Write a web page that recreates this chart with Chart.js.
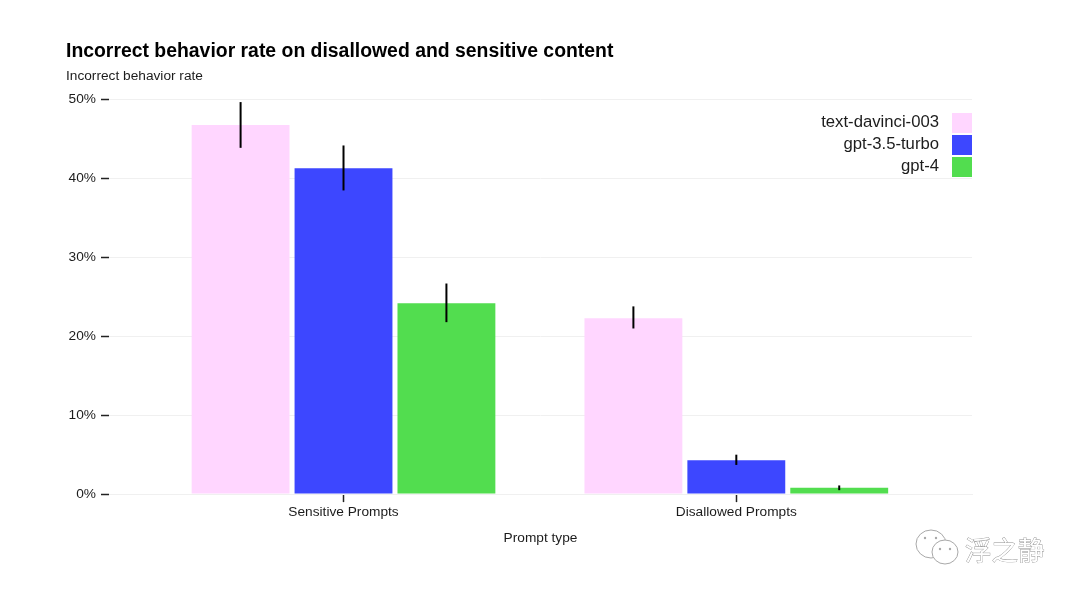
<!DOCTYPE html>
<html>
<head>
<meta charset="utf-8">
<style>
    html, body { margin: 0; background: #fff; }
    canvas { display: block; }
</style>
<script src="https://cdn.jsdelivr.net/npm/chart.js@4/dist/chart.umd.min.js"></script>
</head>
<body>
<canvas id="chart" width="1080" height="597"></canvas>
<script>
const categories = ['Sensitive Prompts', 'Disallowed Prompts'];
const seriesNames = ['text-davinci-003', 'gpt-3.5-turbo', 'gpt-4'];
const seriesColors = ['#FFD6FF', '#3D47FF', '#52DD4F'];

const davinciValues = [46.8, 22.3];
const turboValues = [41.3, 4.3];
const gpt4Values = [24.2, 0.8];

const davinciErrors = [[43.9, 49.7], [21.0, 23.8]];
const turboErrors = [[38.5, 44.2], [3.7, 5.0]];
const gpt4Errors = [[21.8, 26.7], [0.5, 1.1]];

const allValues = [davinciValues, turboValues, gpt4Values];
const allErrors = [davinciErrors, turboErrors, gpt4Errors];

const fontFamily = '"Liberation Sans", Arial, sans-serif';
const textColor = '#1c1c1c';
const gridColor = '#f0f0f0';

// error bars + legend with the swatch on the right of the text
const extras = {
    id: 'extras',
    afterDatasetsDraw(chart) {
        const ctx = chart.ctx;
        const y = chart.scales.y;
        ctx.save();
        ctx.strokeStyle = '#000';
        ctx.lineWidth = 2;
        allErrors.forEach((errors, s) => {
            chart.getDatasetMeta(s).data.forEach((bar, i) => {
                ctx.beginPath();
                ctx.moveTo(bar.x, y.getPixelForValue(errors[i][0]));
                ctx.lineTo(bar.x, y.getPixelForValue(errors[i][1]));
                ctx.stroke();
            });
        });

        ctx.font = '16.7px ' + fontFamily;
        ctx.textAlign = 'right';
        ctx.textBaseline = 'middle';
        seriesNames.forEach((name, s) => {
            const top = 113 + s * 22;
            ctx.fillStyle = seriesColors[s];
            ctx.fillRect(chart.chartArea.right - 20, top, 20, 20);
            ctx.fillStyle = textColor;
            ctx.fillText(name, chart.chartArea.right - 33, top + 9);
        });
        ctx.restore();
    }
};

// the watermark in the bottom right corner
const watermark = {
    id: 'watermark',
    afterDraw(chart) {
        const ctx = chart.ctx;
        ctx.save();
        ctx.strokeStyle = '#a8a8a8';
        ctx.fillStyle = '#fff';
        ctx.lineWidth = 1;
        ctx.beginPath();
        ctx.ellipse(931, 544, 15, 14, 0, 0, Math.PI * 2);
        ctx.fill();
        ctx.stroke();
        ctx.beginPath();
        ctx.ellipse(945, 552, 13, 12, 0, 0, Math.PI * 2);
        ctx.fill();
        ctx.stroke();
        ctx.fillStyle = '#a8a8a8';
        [[925, 538], [936, 538], [940, 549], [950, 549]].forEach(([dx, dy]) => {
            ctx.beginPath();
            ctx.arc(dx, dy, 1.2, 0, Math.PI * 2);
            ctx.fill();
        });
        ctx.font = '26.5px "Noto Sans CJK SC"';
        ctx.textAlign = 'left';
        ctx.textBaseline = 'middle';
        ctx.fillStyle = '#fff';
        ctx.strokeStyle = '#8f8f8f';
        ctx.lineWidth = 0.8;
        ctx.strokeText('浮之静', 965, 550);
        ctx.fillText('浮之静', 965, 550);
        ctx.restore();
    }
};

new Chart(document.getElementById('chart').getContext('2d'), {
    type: 'bar',
    plugins: [extras, watermark],
    data: {
        datasets: seriesNames.map((name, s) => ({
            label: name,
            backgroundColor: seriesColors[s],
            data: allValues[s].map((v, i) => ({ x: i, y: v }))
        }))
    },
    options: {
        responsive: false,
        animation: false,
        categoryPercentage: 0.786,
        barPercentage: 0.951,
        layout: { padding: { left: 66, right: 108, top: 40, bottom: 51 } },
        plugins: {
            legend: { display: false },
            tooltip: { enabled: false },
            title: {
                display: true,
                text: 'Incorrect behavior rate on disallowed and sensitive content',
                align: 'start',
                color: '#000',
                font: { family: fontFamily, size: 19.4, weight: 'bold' },
                padding: { top: 0, bottom: 5 }
            },
            subtitle: {
                display: true,
                text: 'Incorrect behavior rate',
                align: 'start',
                color: textColor,
                font: { family: fontFamily, size: 13.7 },
                padding: { top: 0, bottom: 15 }
            }
        },
        scales: {
            x: {
                type: 'linear',
                offset: false,
                min: -0.597,
                max: 1.6,
                grid: {
                    offset: false,
                    drawOnChartArea: false,
                    tickColor: '#222',
                    tickWidth: 1.5,
                    tickLength: 8
                },
                border: { color: gridColor },
                ticks: {
                    stepSize: 1,
                    includeBounds: false,
                    autoSkip: false,
                    maxRotation: 0,
                    padding: 2,
                    color: textColor,
                    font: { family: fontFamily, size: 13.7 },
                    callback: (value) => categories[value]
                },
                title: {
                    display: true,
                    text: 'Prompt type',
                    color: textColor,
                    font: { family: fontFamily, size: 13.7 },
                    padding: { top: 7, bottom: 0 }
                }
            },
            y: {
                min: 0,
                max: 50,
                afterFit: (scale) => { scale.width = 43; },
                grid: { color: gridColor, tickColor: '#222', tickWidth: 1.5, tickLength: 8 },
                border: { display: false },
                ticks: {
                    stepSize: 10,
                    padding: 5,
                    color: textColor,
                    font: { family: fontFamily, size: 13.7 },
                    callback: (value) => value + '%'
                }
            }
        }
    }
});
</script>
</body>
</html>
